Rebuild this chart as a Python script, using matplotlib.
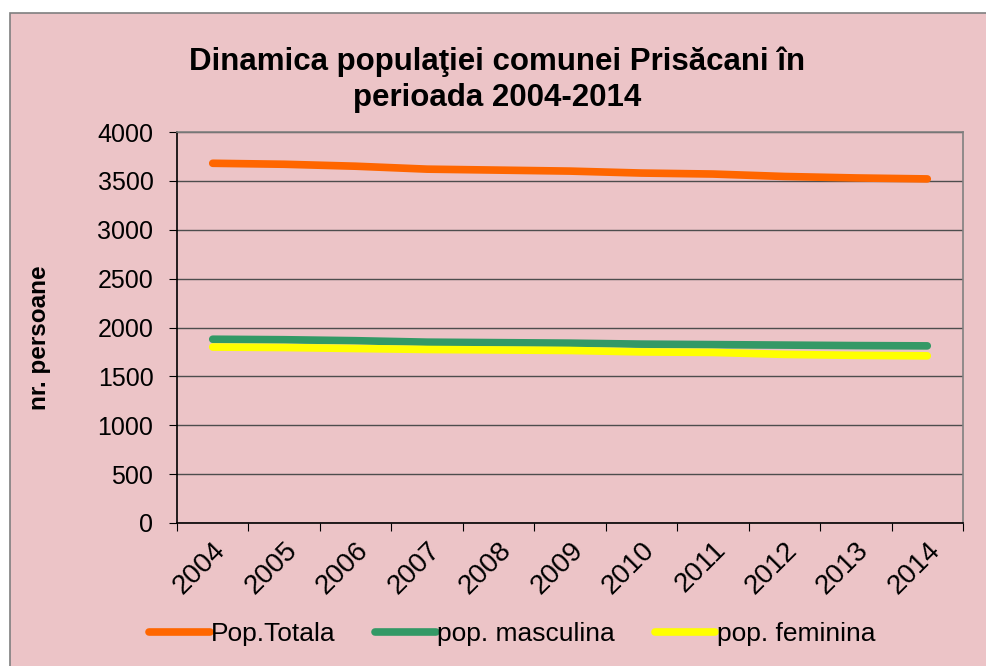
import matplotlib.pyplot as plt
import matplotlib.transforms as mtransforms
from matplotlib.patches import Rectangle
import numpy as np

plt.rcParams['font.family'] = ['Liberation Sans', 'DejaVu Sans']

years = ['2004', '2005', '2006', '2007', '2008', '2009', '2010',
         '2011', '2012', '2013', '2014']
pop_totala = [3680, 3670, 3650, 3620, 3610, 3600, 3580, 3570, 3545, 3530, 3520]
pop_masculina = [1880, 1875, 1865, 1850, 1845, 1840, 1830, 1825, 1820, 1815, 1812]
pop_feminina = [1800, 1795, 1785, 1775, 1770, 1765, 1750, 1745, 1725, 1715, 1710]

bg = '#ECC4C7'

fig = plt.figure(figsize=(9.87, 6.66), dpi=100, facecolor='white')
# chart area with grey border (runs off the right/bottom edge)
fig.patches.append(Rectangle((10 / 987, -0.1), 1.2, 1 - 13 / 666 + 0.1,
                             transform=fig.transFigure, facecolor=bg,
                             edgecolor='#7f7f7f', linewidth=1.2, zorder=-10))

ax = fig.add_axes([177 / 987, 1 - 523 / 666, (963 - 177) / 987, (523 - 132) / 666])
ax.set_facecolor('none')

x = np.arange(len(years))
lw = 5.5
ax.plot(x, pop_totala, color='#FF6600', lw=lw, solid_capstyle='round', label='Pop.Totala')
ax.plot(x, pop_masculina, color='#339966', lw=lw, solid_capstyle='round', label='pop. masculina')
ax.plot(x, pop_feminina, color='#FFFF00', lw=lw, solid_capstyle='round', label='pop. feminina')

ax.set_xlim(-0.5, len(years) - 0.5)
ax.set_ylim(0, 4000)
ax.set_yticks(range(0, 4001, 500))
ax.yaxis.grid(True, color='#4d4d4d', lw=1)
ax.set_axisbelow(True)

# tick marks sit between categories, labels at the category centres
ax.set_xticks(np.arange(-0.5, len(years), 1))
ax.tick_params(axis='x', length=6, direction='out', color='black', labelbottom=False)
ax.tick_params(axis='y', length=6, direction='out', labelsize=18, pad=11)
lab_tr = ax.get_xaxis_transform() + mtransforms.ScaledTranslation(
    9 / 100, -23 / 100, fig.dpi_scale_trans)
for xi, yr in zip(x, years):
    ax.text(xi, 0, yr, transform=lab_tr, rotation=45, rotation_mode='anchor',
            ha='right', va='center', fontsize=20, clip_on=False)

for s in ['left', 'bottom']:
    ax.spines[s].set_color('black')
for s in ['top', 'right']:
    ax.spines[s].set_color('#808080')
for s in ax.spines.values():
    s.set_linewidth(1.2)

fig.text(497 / 987, 1 - 62 / 666, 'Dinamica populaţiei comunei Prisăcani în',
         ha='center', va='center', fontsize=22.5, fontweight='bold')
fig.text(497 / 987, 1 - 98 / 666, 'perioada 2004-2014',
         ha='center', va='center', fontsize=22.5, fontweight='bold')
fig.text(40 / 987, 1 - 338 / 666, 'nr. persoane', rotation=90,
         ha='center', va='center', fontsize=17.5, fontweight='bold')

fig.legend(loc='center', bbox_to_anchor=(512 / 987, 1 - 634 / 666), ncol=3,
           frameon=False, fontsize=19, handlelength=2.3, handletextpad=0.05,
           columnspacing=1.5)

fig.savefig('out.png', dpi=100, facecolor='white')
